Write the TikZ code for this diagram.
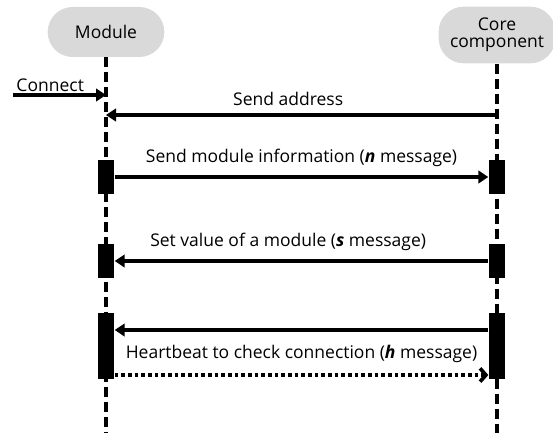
\documentclass[tikz,border=0pt]{standalone}
\usepackage{fontspec}
\setmainfont{Open Sans}
\usetikzlibrary{arrows.meta,positioning}
\tikzstyle{every picture}=[x=0.6pt, y=-0.6pt, >={Triangle[length=6pt,width=7.5pt]},%
	font=\fontsize{10.5}{12}\selectfont]
\tikzstyle{actor}=[fill=black!15, rounded corners=15pt, minimum width=70pt,%
	minimum height=30pt, align=center, inner sep=2pt]
\tikzstyle{lifeline}=[line width=2.3pt, dash pattern=on 6pt off 3pt]
\tikzstyle{activation}=[fill=black, minimum width=10pt, inner sep=0pt]
\tikzstyle{msg}=[line width=2.2pt]
\tikzstyle{reply}=[line width=2.2pt, dash pattern=on 2.2pt off 1.8pt,%
	-{Straight Barb[length=3.5pt,width=8pt]}]

\begin{document}
\begin{tikzpicture}
	\useasboundingbox (0,0) rectangle (553,433);
	\node[actor] (module) at (106,32) {Module};
	\node[actor, minimum height=34pt] (core) at (497,35) {Core\\[-2pt]component};
	\coordinate (bottom) at (0,433);
	\draw[lifeline] (module.south) -- (module |- bottom);
	\draw[lifeline] (core.south) -- (core |- bottom);
	% activations
	\node[activation, minimum height=20pt] (m1) at (106,177) {};
	\node[activation, minimum height=20pt] (c1) at (497,177) {};
	\node[activation, minimum height=20pt] (m2) at (106,261) {};
	\node[activation, minimum height=20pt] (c2) at (497,261) {};
	\node[activation, minimum height=40pt] (m3) at (106,346) {};
	\node[activation, minimum height=40pt] (c3) at (497,346) {};
	% messages
	\coordinate (in) at (13,95);
	\draw[msg,->] (in) node[above right, inner sep=1pt] {Connect} -- (module |- in);
	\coordinate (addr) at (0,115);
	\draw[msg,->] (core |- addr) -- node[above=1pt, xshift=-8pt] {Send address} (module |- addr);
	\draw[msg,->] (m1.east) -- node[above=2pt] {Send module information (\textbf{\textit{n}} message)} (c1.west);
	\draw[msg,->] (c2.west) -- node[above=2pt, xshift=-8pt] {Set value of a module (\textbf{\textit{s}} message)} (m2.east);
	\coordinate (hb) at (0,330);
	\coordinate (hbr) at (0,375);
	\draw[msg,->] (c3.west |- hb) -- (m3.east |- hb);
	\draw[reply] (m3.east |- hbr) -- node[above=3pt] {Heartbeat to check connection (\textbf{\textit{h}} message)} (c3.west |- hbr);
\end{tikzpicture}
\end{document}
